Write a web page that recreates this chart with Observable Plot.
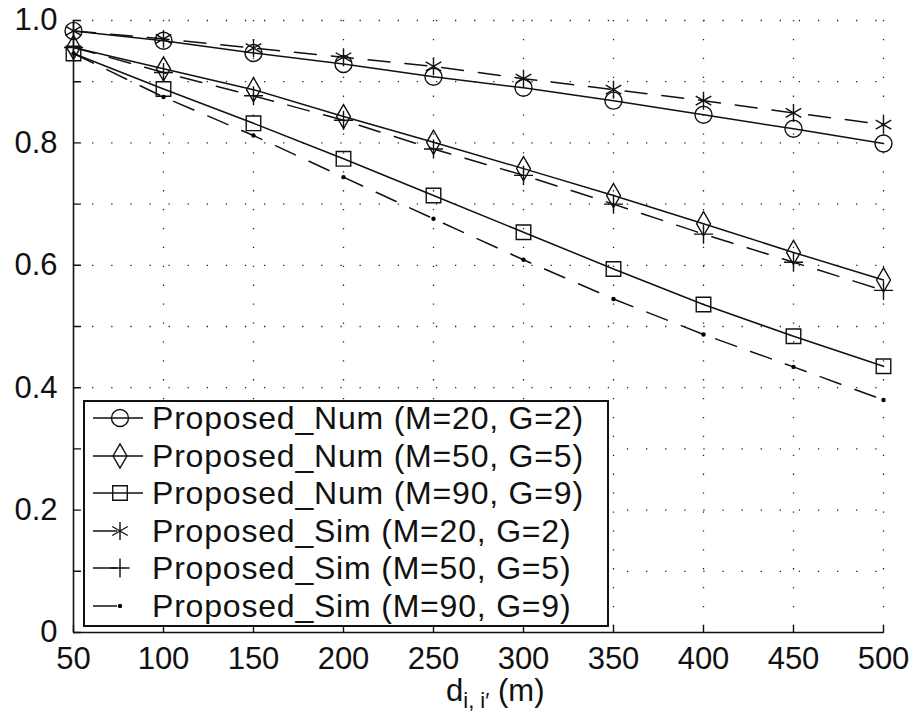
<!DOCTYPE html>
<html><head><meta charset="utf-8">
<script src="https://cdn.jsdelivr.net/npm/d3@7"></script>
<script src="https://cdn.jsdelivr.net/npm/@observablehq/plot@0.6"></script>
<style>
body{margin:0;background:#fff;}
#wrap{position:relative;width:912px;height:715px;font-family:"Liberation Sans",Arial,Helvetica,sans-serif;color:#111;}
#legend{position:absolute;left:83px;top:400px;width:522px;height:223px;border:2px solid #111;background:#fff;}
.row{position:absolute;left:0;height:38px;width:520px;}
.row svg{position:absolute;left:0;top:0;}
.row span{position:absolute;left:67px;top:0;line-height:38px;font-size:32px;letter-spacing:0.8px;white-space:nowrap;}
#xlabel{position:absolute;left:446px;top:677px;font-size:31px;line-height:28px;white-space:nowrap;}
#xlabel sub{font-size:22px;vertical-align:-7px;line-height:0;}
</style></head>
<body><div id="wrap"></div>
<script>
const dist = [50, 100, 150, 200, 250, 300, 350, 400, 450, 500];
const numM20 = [0.983, 0.967, 0.947, 0.929, 0.908, 0.890, 0.869, 0.846, 0.823, 0.799];
const numM50 = [0.956, 0.921, 0.887, 0.843, 0.801, 0.758, 0.714, 0.668, 0.621, 0.576];
const numM90 = [0.946, 0.888, 0.832, 0.774, 0.714, 0.654, 0.594, 0.536, 0.484, 0.435];
const simM20 = [0.983, 0.970, 0.955, 0.940, 0.925, 0.905, 0.887, 0.869, 0.849, 0.830];
const simM50 = [0.956, 0.915, 0.877, 0.837, 0.790, 0.747, 0.700, 0.651, 0.605, 0.559];
const simM90 = [0.946, 0.875, 0.812, 0.744, 0.676, 0.609, 0.545, 0.487, 0.434, 0.380];
const seriesNames = ["Proposed_Num (M=20, G=2)", "Proposed_Num (M=50, G=5)", "Proposed_Num (M=90, G=9)",
                     "Proposed_Sim (M=20, G=2)", "Proposed_Sim (M=50, G=5)", "Proposed_Sim (M=90, G=9)"];
const xTicks = [50, 100, 150, 200, 250, 300, 350, 400, 450, 500];
const yTicks = [0, 0.1, 0.2, 0.3, 0.4, 0.5, 0.6, 0.7, 0.8, 0.9, 1.0];
const yLabelTicks = [0, 0.2, 0.4, 0.6, 0.8, 1.0];

const styles = [
  {symbol: "circle", r: 8.5, dash: null, fill: "none"},
  {symbol: "diamond", r: 7.3, dash: null, fill: "none"},
  {symbol: "square", r: 8.2, dash: null, fill: "none"},
  {symbol: "asterisk", r: 8.5, dash: "22,15", fill: "none"},
  {symbol: "plus", r: 6.2, dash: "22,15", fill: "none"},
  {symbol: "circle", r: 2.2, dash: "22,15", fill: "black"}
];
const allVals = [numM20, numM50, numM90, simM20, simM50, simM90];
const series = allVals.map((vals, k) => dist.map((d, i) => ({x: d, y: vals[i], s: seriesNames[k]})));

const tickShape = {draw(ctx, l) { ctx.moveTo(0, 0); ctx.lineTo(0, -l); }};

const marks = [
  Plot.ruleX(xTicks.slice(1), {stroke: "#222", strokeWidth: 1.3, strokeDasharray: "1.3,17.6"}),
  Plot.ruleY(yTicks.slice(1), {stroke: "#222", strokeWidth: 1.3, strokeDasharray: "1.3,17.8"}),
  Plot.ruleX([50], {stroke: "#111", strokeWidth: 1.6}),
  Plot.ruleY([0], {stroke: "#111", strokeWidth: 1.6}),
  Plot.vector(yTicks, {y: d => d, frameAnchor: "left", length: 7, rotate: 90, anchor: "start", shape: tickShape, stroke: "#111", strokeWidth: 1.4}),
  Plot.vector(xTicks, {x: d => d, frameAnchor: "bottom", length: 7, rotate: 0, anchor: "start", shape: tickShape, stroke: "#111", strokeWidth: 1.4})
];
series.forEach((data, k) => {
  const st = styles[k];
  marks.push(Plot.line(data, {x: "x", y: "y", stroke: "#111", strokeWidth: 1.5, strokeDasharray: st.dash}));
});
series.forEach((data, k) => {
  const st = styles[k];
  marks.push(Plot.dot(data, {x: "x", y: "y", symbol: () => st.symbol, r: st.r, stroke: st.fill === "none" ? "#111" : "none", fill: st.fill, strokeWidth: 1.4}));
});
marks.push(
  Plot.axisX(xTicks, {tickSize: 0, tickPadding: 14, fontSize: 31, tickFormat: d => String(d), label: null}),
  Plot.axisY(yLabelTicks, {tickSize: 0, tickPadding: 16, fontSize: 31, tickFormat: d => d === 0 ? "0" : d.toFixed(1), label: null})
);

const chart = Plot.plot({
  width: 912, height: 715,
  marginLeft: 73, marginRight: 29, marginTop: 20, marginBottom: 83,
  style: {fontFamily: "'Liberation Sans', Arial, Helvetica, sans-serif", fontSize: "31px", background: "white", color: "#111"},
  x: {domain: [50, 500], label: null},
  y: {domain: [0, 1], label: null},
  marks
});
const wrap = document.getElementById("wrap");
wrap.appendChild(chart);

// legend
const legend = document.createElement("div");
legend.id = "legend";
seriesNames.forEach((name, k) => {
  const st = styles[k];
  const row = document.createElement("div");
  row.className = "row";
  row.style.top = (-3 + k * 37.5) + "px";
  const svg = d3.create("svg").attr("width", 66).attr("height", 38);
  const dash = st.dash ? "24,200" : null;
  svg.append("line").attr("x1", 8).attr("x2", 58).attr("y1", 19).attr("y2", 19)
    .attr("stroke", "#111").attr("stroke-width", 1.5).attr("stroke-dasharray", dash);
  const symMap = {circle: d3.symbolCircle, diamond: d3.symbolDiamond, square: d3.symbolSquare, asterisk: d3.symbolAsterisk, plus: d3.symbolPlus};
  svg.append("path").attr("transform", "translate(35,19)")
    .attr("d", d3.symbol(symMap[st.symbol], Math.PI * st.r * st.r)())
    .attr("fill", st.fill).attr("stroke", st.fill === "none" ? "#111" : "none").attr("stroke-width", 1.4);
  row.appendChild(svg.node());
  const span = document.createElement("span");
  span.textContent = name;
  row.appendChild(span);
  legend.appendChild(row);
});
wrap.appendChild(legend);

const xl = document.createElement("div");
xl.id = "xlabel";
xl.innerHTML = "d<sub>i, i′</sub> (m)";
wrap.appendChild(xl);
</script></body></html>
